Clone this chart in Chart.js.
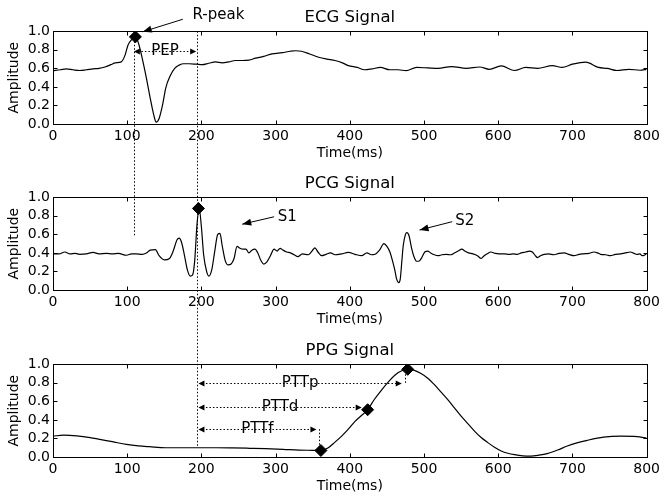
<!DOCTYPE html>
<html>
<head>
<meta charset="utf-8">
<script src="https://cdn.jsdelivr.net/npm/chart.js@4.4.1/dist/chart.umd.min.js"></script>
<style>
  body { margin: 0; background: #fff; }
  #wrap { position: relative; width: 664px; height: 497px; }
  #wrap canvas { position: absolute; left: 0; }
</style>
</head>
<body>
<div id="wrap">
  <canvas id="ecg" width="664" height="164" style="top:0px"></canvas>
  <canvas id="pcg" width="664" height="164" style="top:166px"></canvas>
  <canvas id="ppg" width="664" height="164" style="top:333px"></canvas>
  <canvas id="over" width="664" height="497" style="top:0px;pointer-events:none"></canvas>
</div>
<script>
// ECG trace (time in ms, normalised amplitude)
const ecgTime = [0,10,18,27,36,45,54,62,70,78,84,92,97,101,106,111,116,121,126,131,136,139,143,148,152,158,164,170,176,184,193,201,210,219,228,237,246,255,264,273,284,295,309,320,327,335,346,358,369,380,390,398,410,420,430,441,454,465,476,490,505,519,537,557,575,588,604,622,637,653,673,686,700,718,735,747,760,776,791,800];
const ecgAmp = [0.575,0.585,0.595,0.585,0.577,0.585,0.595,0.6,0.615,0.64,0.66,0.67,0.74,0.85,0.91,0.94,0.85,0.68,0.49,0.28,0.09,0.02,0.06,0.22,0.39,0.52,0.6,0.635,0.65,0.65,0.645,0.64,0.655,0.67,0.66,0.67,0.685,0.685,0.69,0.71,0.73,0.756,0.77,0.785,0.79,0.785,0.755,0.72,0.7,0.685,0.66,0.63,0.61,0.585,0.595,0.61,0.585,0.585,0.575,0.61,0.605,0.6,0.62,0.6,0.615,0.59,0.627,0.577,0.61,0.6,0.63,0.61,0.645,0.667,0.61,0.6,0.577,0.59,0.58,0.59];

// PCG trace
const pcgTime = [0,8,16,23,30,36,45,54,62,72,80,88,99,106,112,120,126,131,138,143,150,157,162,167,170,173,177,181,185,188,191,194,197,200,203,207,210,214,218,222,225,228,232,236,240,244,248,252,256,260,264,268,272,276,280,284,288,293,298,302,306,310,315,320,325,330,336,344,349,353,357,362,368,374,380,389,398,407,416,423,429,434,440,446,450,454,458,461,463,466,468,470,472,475,477,480,483,486,490,493,497,501,505,509,514,519,524,530,536,541,546,551,555,560,566,572,577,581,585,590,596,601,608,615,620,626,631,637,642,646,650,653,657,662,668,675,682,689,695,702,709,715,722,729,734,738,745,751,758,765,771,778,783,787,791,794,797,800];
const pcgAmp = [0.39,0.39,0.41,0.39,0.395,0.385,0.39,0.405,0.39,0.395,0.39,0.395,0.375,0.39,0.39,0.385,0.4,0.43,0.435,0.37,0.325,0.34,0.42,0.54,0.56,0.52,0.38,0.22,0.15,0.16,0.32,0.7,0.88,0.68,0.38,0.2,0.15,0.22,0.42,0.6,0.61,0.48,0.32,0.27,0.28,0.34,0.47,0.45,0.44,0.44,0.4,0.43,0.44,0.4,0.32,0.28,0.3,0.37,0.44,0.42,0.45,0.43,0.41,0.4,0.38,0.36,0.39,0.38,0.42,0.455,0.41,0.37,0.385,0.4,0.38,0.39,0.405,0.385,0.37,0.4,0.38,0.385,0.43,0.5,0.47,0.41,0.3,0.2,0.12,0.08,0.12,0.3,0.48,0.6,0.62,0.58,0.46,0.37,0.31,0.31,0.35,0.41,0.42,0.4,0.38,0.37,0.38,0.385,0.38,0.4,0.42,0.44,0.42,0.4,0.39,0.37,0.34,0.37,0.39,0.41,0.395,0.39,0.39,0.385,0.39,0.385,0.4,0.41,0.42,0.41,0.37,0.35,0.37,0.385,0.39,0.38,0.395,0.4,0.385,0.37,0.385,0.39,0.395,0.41,0.4,0.385,0.38,0.37,0.385,0.39,0.4,0.41,0.395,0.385,0.39,0.37,0.375,0.39];

// PPG trace
const ppgTime = [0,14,32,50,63,80,99,115,130,152,175,194,220,241,265,286,310,331,350,361,371,380,389,398,407,416,424,433,443,452,461,470,478,487,496,505,514,523,532,541,550,559,568,577,586,595,604,613,622,633,644,655,666,680,693,706,720,742,765,787,800];
const ppgAmp = [0.225,0.235,0.228,0.21,0.19,0.165,0.136,0.12,0.111,0.1,0.1,0.1,0.1,0.098,0.094,0.09,0.083,0.075,0.072,0.07,0.1,0.16,0.225,0.3,0.385,0.45,0.51,0.62,0.725,0.81,0.885,0.93,0.946,0.935,0.9,0.85,0.78,0.7,0.62,0.53,0.44,0.36,0.28,0.21,0.155,0.105,0.065,0.04,0.025,0.013,0.01,0.02,0.037,0.075,0.118,0.152,0.18,0.214,0.225,0.22,0.204];

// marked points (diamonds)
const ecgMarkTime = [111];
const ecgMarkAmp = [0.94];
const pcgMarkTime = [196];
const pcgMarkAmp = [0.88];
const ppgMarkTime = [361, 424, 478];
const ppgMarkAmp = [0.07, 0.51, 0.946];

const xTicks = [0, 100, 200, 300, 400, 500, 600, 700, 800];
const yTicks = ['0.0', '0.2', '0.4', '0.6', '0.8', '1.0'];

// annotations, in data units of each panel
const ecgNotes = [
  {type: 'span', from: 109, to: 193, at: 0.79, text: 'PEP'},
  {type: 'pointer', text: 'R-peak', tx: 188, ty: 1.17, fromT: 175, fromV: 1.13, toT: 121, toV: 0.995}
];
const pcgNotes = [
  {type: 'pointer', text: 'S1', tx: 303, ty: 0.79, fromT: 298, fromV: 0.79, toT: 255, toV: 0.71},
  {type: 'pointer', text: 'S2', tx: 542, ty: 0.746, fromT: 538, fromV: 0.737, toT: 494, toV: 0.647}
];
const ppgNotes = [
  {type: 'span', from: 196, to: 355, at: 0.30, text: 'PTTf'},
  {type: 'drop', t: 358, v1: 0.30, v2: 0.10},
  {type: 'span', from: 196, to: 416, at: 0.535, text: 'PTTd'},
  {type: 'span', from: 196, to: 470, at: 0.80, text: 'PTTp'},
  {type: 'drop', t: 474, v1: 0.80, v2: 0.925}
];

const FONT = "'DejaVu Sans', sans-serif";
Chart.defaults.font.family = FONT;
Chart.defaults.color = '#000';

function head(ctx, x1, y1, x2, y2, len, w) {
  const a = Math.atan2(y2 - y1, x2 - x1);
  const c = Math.cos(a), s = Math.sin(a);
  ctx.beginPath();
  ctx.moveTo(x2, y2);
  ctx.lineTo(x2 - len * c + w * s, y2 - len * s - w * c);
  ctx.lineTo(x2 - len * c - w * s, y2 - len * s + w * c);
  ctx.closePath();
  ctx.fill();
}

// box round the axes + inward ticks like matplotlib
const frame = {
  id: 'frame',
  afterDraw(chart) {
    const {ctx, chartArea: a, scales: {x, y}} = chart;
    const L = Math.round(a.left) + 0.5, R = Math.round(a.right) + 0.5;
    const T = Math.round(a.top) + 0.5, B = Math.round(a.bottom) + 0.5;
    ctx.save();
    ctx.strokeStyle = '#000';
    ctx.lineWidth = 1;
    ctx.strokeRect(L, T, R - L, B - T);
    ctx.beginPath();
    x.ticks.forEach(tk => {
      const px = Math.round(x.getPixelForValue(tk.value)) + 0.5;
      ctx.moveTo(px, B); ctx.lineTo(px, B - 4);
      ctx.moveTo(px, T); ctx.lineTo(px, T + 4);
    });
    y.ticks.forEach(tk => {
      const py = Math.round(y.getPixelForValue(tk.value)) + 0.5;
      ctx.moveTo(L, py); ctx.lineTo(L + 4, py);
      ctx.moveTo(R, py); ctx.lineTo(R - 4, py);
    });
    ctx.stroke();
    ctx.restore();
  }
};

function makeNotes(notes) {
  return {
    id: 'notes',
    afterDraw(chart) {
      const {ctx, scales: {x, y}} = chart;
      ctx.save();
      ctx.strokeStyle = '#000';
      ctx.fillStyle = '#000';
      ctx.lineWidth = 1;
      ctx.font = '15px ' + FONT;
      ctx.textBaseline = 'middle';
      notes.forEach(n => {
        if (n.type === 'span') {
          const x1 = x.getPixelForValue(n.from), x2 = x.getPixelForValue(n.to);
          const py = Math.round(y.getPixelForValue(n.at)) + 0.5;
          ctx.setLineDash([1.5, 2]);
          ctx.beginPath(); ctx.moveTo(x1 + 4, py); ctx.lineTo(x2 - 4, py); ctx.stroke();
          ctx.setLineDash([]);
          head(ctx, x2, py, x1, py, 6, 3);
          head(ctx, x1, py, x2, py, 6, 3);
          ctx.textAlign = 'center';
          ctx.fillText(n.text, (x1 + x2) / 2, py);
        } else if (n.type === 'drop') {
          const px = Math.round(x.getPixelForValue(n.t)) + 0.5;
          ctx.setLineDash([1.5, 2]);
          ctx.beginPath();
          ctx.moveTo(px, y.getPixelForValue(n.v1));
          ctx.lineTo(px, y.getPixelForValue(n.v2));
          ctx.stroke();
          ctx.setLineDash([]);
        } else if (n.type === 'pointer') {
          const fx = x.getPixelForValue(n.fromT), fy = y.getPixelForValue(n.fromV);
          const tx = x.getPixelForValue(n.toT), ty = y.getPixelForValue(n.toV);
          ctx.beginPath(); ctx.moveTo(fx, fy); ctx.lineTo(tx, ty); ctx.stroke();
          head(ctx, fx, fy, tx, ty, 9, 3.5);
          ctx.textAlign = 'left';
          ctx.fillText(n.text, x.getPixelForValue(n.tx), y.getPixelForValue(n.ty));
        }
      });
      ctx.restore();
    }
  };
}

function makeChart(id, title, times, amps, markT, markV, notes) {
  return new Chart(document.getElementById(id), {
    type: 'line',
    data: {
      datasets: [
        {
          data: markT.map((t, i) => ({x: t, y: markV[i]})),
          showLine: false, pointStyle: 'rectRot', pointRadius: 6,
          backgroundColor: '#000', borderColor: '#000', order: 0
        },
        {
          data: times.map((t, i) => ({x: t, y: amps[i]})),
          borderColor: '#000', borderWidth: 1.2, pointRadius: 0,
          cubicInterpolationMode: 'monotone', order: 1
        }
      ]
    },
    options: {
      responsive: false,
      animation: false,
      events: [],
      layout: {padding: {left: 0, right: 14, top: 0, bottom: 0}},
      plugins: {
        legend: {display: false},
        tooltip: {enabled: false},
        title: {
          display: true, text: title, fullSize: false, color: '#000',
          font: {size: 16.5, weight: 'normal'}, padding: {top: 8, bottom: 3.5}
        }
      },
      scales: {
        x: {
          type: 'linear', min: 0, max: 800,
          grid: {display: false, drawTicks: false}, border: {display: false},
          afterBuildTicks: s => { s.ticks = xTicks.map(v => ({value: v})); },
          ticks: {maxRotation: 0, autoSkip: false, padding: 4, font: {size: 14}, color: '#000'},
          title: {display: true, text: 'Time(ms)', font: {size: 14}, color: '#000', padding: {top: 0, bottom: 2}},
          afterFit: s => { s.height = 40; }
        },
        y: {
          type: 'linear', min: 0, max: 1,
          grid: {display: false, drawTicks: false}, border: {display: false},
          afterBuildTicks: s => { s.ticks = yTicks.map(v => ({value: parseFloat(v)})); },
          ticks: {autoSkip: false, padding: 3, font: {size: 14}, color: '#000', callback: (v, i) => yTicks[i]},
          title: {display: true, text: 'Amplitude', font: {size: 14}, color: '#000', padding: {top: 6, bottom: 0}},
          afterFit: s => { s.width = 53; }
        }
      }
    },
    plugins: [frame, makeNotes(notes)]
  });
}

const ecgChart = makeChart('ecg', 'ECG Signal', ecgTime, ecgAmp, ecgMarkTime, ecgMarkAmp, ecgNotes);
const pcgChart = makeChart('pcg', 'PCG Signal', pcgTime, pcgAmp, pcgMarkTime, pcgMarkAmp, pcgNotes);
const ppgChart = makeChart('ppg', 'PPG Signal', ppgTime, ppgAmp, ppgMarkTime, ppgMarkAmp, ppgNotes);

// dotted guide lines that run across the panels
const panelTop = {ecg: 0, pcg: 166, ppg: 333};
const guides = [
  {t: 109, from: [ecgChart, 'ecg', 0.93], to: [pcgChart, 'pcg', 0.58]},
  {t: 194, from: [ecgChart, 'ecg', 1.0], to: [ppgChart, 'ppg', 0.10]}
];
const octx = document.getElementById('over').getContext('2d');
octx.strokeStyle = '#000';
octx.lineWidth = 1;
octx.setLineDash([1.5, 2]);
guides.forEach(g => {
  const [c1, k1, v1] = g.from;
  const [c2, k2, v2] = g.to;
  const px = Math.round(c1.scales.x.getPixelForValue(g.t)) + 0.5;
  octx.beginPath();
  octx.moveTo(px, panelTop[k1] + c1.scales.y.getPixelForValue(v1));
  octx.lineTo(px, panelTop[k2] + c2.scales.y.getPixelForValue(v2));
  octx.stroke();
});
</script>
</body>
</html>
